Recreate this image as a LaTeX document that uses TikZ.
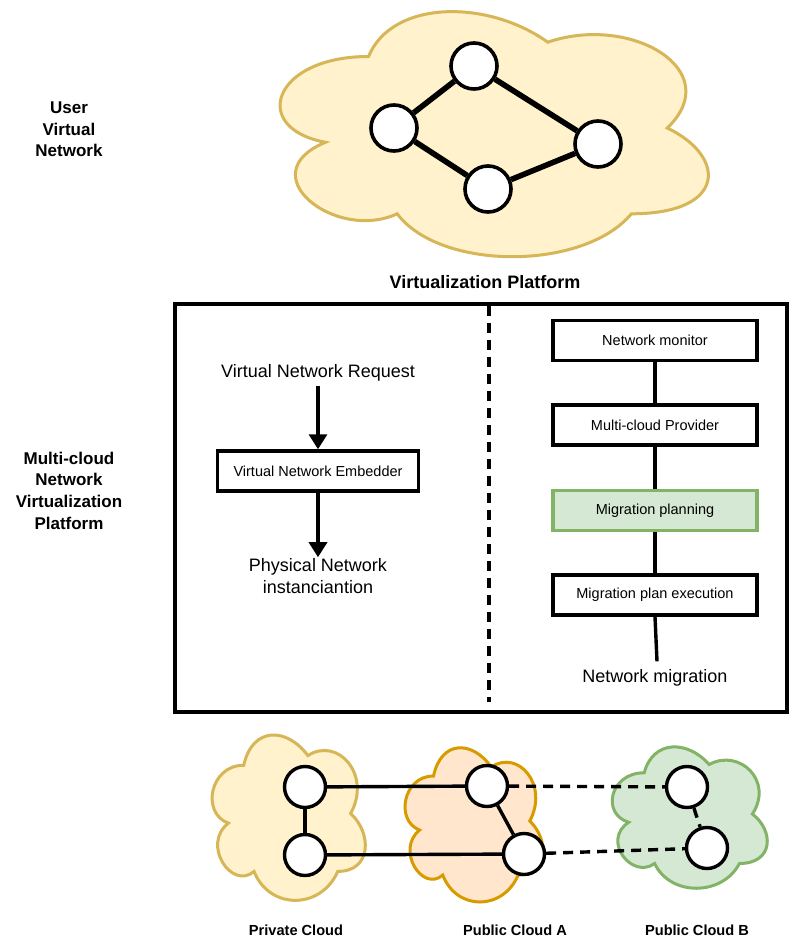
\documentclass[tikz,border=0pt]{standalone}
\usepackage{fontspec}
\setmainfont{Liberation Sans}
\usetikzlibrary{arrows.meta}

\definecolor{ylwfill}{HTML}{FFF2CC}
\definecolor{ylwline}{HTML}{D6B656}
\definecolor{orgfill}{HTML}{FFE6CC}
\definecolor{orgline}{HTML}{D79B00}
\definecolor{grnfill}{HTML}{D5E8D4}
\definecolor{grnline}{HTML}{82B366}

% cloud outline inside the box (x0,y0) of size w x h
\newcommand\cloudshape[5]{%
  \path[#1]
    ({#2+0.25*#4},{#3+0.25*#5})
    .. controls ({#2+0.05*#4},{#3+0.25*#5}) and ({#2},{#3+0.5*#5}) .. ({#2+0.16*#4},{#3+0.55*#5})
    .. controls ({#2},{#3+0.66*#5}) and ({#2+0.18*#4},{#3+0.9*#5}) .. ({#2+0.31*#4},{#3+0.8*#5})
    .. controls ({#2+0.4*#4},{#3+#5}) and ({#2+0.7*#4},{#3+#5}) .. ({#2+0.8*#4},{#3+0.8*#5})
    .. controls ({#2+#4},{#3+0.8*#5}) and ({#2+#4},{#3+0.6*#5}) .. ({#2+0.875*#4},{#3+0.5*#5})
    .. controls ({#2+#4},{#3+0.3*#5}) and ({#2+0.8*#4},{#3+0.1*#5}) .. ({#2+0.625*#4},{#3+0.2*#5})
    .. controls ({#2+0.5*#4},{#3+0.05*#5}) and ({#2+0.3*#4},{#3+0.05*#5}) .. ({#2+0.25*#4},{#3+0.25*#5})
    -- cycle;}

\tikzset{
  bignode/.style={circle, draw=black, fill=white, line width=3.6pt, minimum size=46pt, inner sep=0pt},
  smallnode/.style={circle, draw=black, fill=white, line width=3.4pt, minimum size=41pt, inner sep=0pt},
  bigedge/.style={line width=5.6pt},
  smalledge/.style={line width=3.4pt},
  dashedge/.style={line width=3.4pt, dash pattern=on 10pt off 7pt},
  cloudline/.style={line width=3pt},
  sidelabel/.style={font=\bfseries\fontsize{17}{21.7}\selectfont, align=center, inner sep=0pt},
  plaintext/.style={font=\fontsize{18}{22}\selectfont, align=center, inner sep=0pt},
  procbox/.style={draw=black, fill=white, line width=3.5pt, minimum width=204pt, minimum height=40pt,
    inner sep=0pt, font=\fontsize{14.5}{17}\selectfont},
  flowline/.style={line width=3.4pt},
  flowarrow/.style={line width=3.4pt, -{Triangle[length=15pt,width=18pt]}},
  cloudlabel/.style={font=\bfseries\fontsize{14.6}{17}\selectfont, inner sep=0pt},
}

\begin{document}
\begin{tikzpicture}[x=1pt, y=-1pt]
\useasboundingbox[fill=white] (0,0) rectangle (790,941);

% ---- user virtual network ----
\cloudshape{fill=ylwfill, draw=ylwline, cloudline}{249}{-15}{478}{286}
\node[bignode] (u1) at (474,66) {};
\node[bignode] (u2) at (394,128) {};
\node[bignode] (u3) at (598,144) {};
\node[bignode] (u4) at (488,189) {};
\draw[bigedge] (u1) -- (u2);
\draw[bigedge] (u1) -- (u3);
\draw[bigedge] (u2) -- (u4);
\draw[bigedge] (u4) -- (u3);

\node[sidelabel] (lblUser) at (69,129.5) {User\\Virtual\\Network};
\node[sidelabel] (lblMulti) at (69,490.5) {Multi-cloud\\Network\\Virtualization\\Platform};

% ---- virtualization platform ----
\node[font=\bfseries\fontsize{18}{22}\selectfont, inner sep=0pt] (title) at (485,282) {Virtualization Platform};
\draw[line width=3.6pt] (175,304) rectangle (787,712);
\coordinate (divTop) at (489,306);
\coordinate (divBot) at (489,702);
\draw[line width=3.4pt, dash pattern=on 10pt off 7pt] (divTop) -- (divBot);

% embedding flow
\node[plaintext] (vnr) at (318,373) {Virtual Network Request};
\node[procbox, minimum width=201pt] (emb) at (318,471) {Virtual Network Embedder};
\node[plaintext] (pni) at (318,576) {Physical Network\\instanciantion};
\draw[flowarrow] ([yshift=-4pt]vnr.south) -- (emb.north);
\draw[flowarrow] (emb.south) -- ([yshift=1pt]pni.north);

% migration flow
\node[procbox] (mon) at (655,340.5) {Network monitor};
\node[procbox] (prov) at (655,425) {Multi-cloud Provider};
\node[procbox, fill=grnfill, draw=grnline] (plan) at (655,510.5) {Migration planning};
\node[procbox] (exec) at (655,595) {Migration plan execution};
\node[plaintext] (mig) at (655,678) {Network migration};
\draw[flowline] (exec.south) ++(0,0) -- ([xshift=2pt,yshift=8pt]mig.north);
\draw[flowline] (mon) -- (prov);
\draw[flowline] (prov) -- (plan);
\draw[flowline] (plan) -- (exec);

% ---- physical clouds ----
\cloudshape{fill=ylwfill, draw=ylwline, cloudline}{201}{717}{171}{193}
\cloudshape{fill=orgfill, draw=orgline, cloudline}{395}{731}{154}{180}
\cloudshape{fill=grnfill, draw=grnline, cloudline}{601}{731.5}{173}{165}

\node[smallnode] (p1) at (305,787) {};
\node[smallnode] (p2) at (305,855) {};
\node[smallnode] (a1) at (487,786) {};
\node[smallnode] (a2) at (524,854) {};
\node[smallnode] (b1) at (687,787) {};
\node[smallnode] (b2) at (707,848) {};

\draw[smalledge] (p1) -- (p2);
\draw[smalledge] (p1) -- (a1);
\draw[smalledge] (p2) -- (a2);
\draw[smalledge] (a1) -- (a2);
\draw[dashedge] (a1) -- (b1);
\draw[dashedge] (a2) -- (b2);
\draw[dashedge] (b1) -- (b2);

\node[cloudlabel] (lblPriv) at (296,930) {Private Cloud};
\node[cloudlabel] (lblPubA) at (515,930) {Public Cloud A};
\node[cloudlabel] (lblPubB) at (697,930) {Public Cloud B};
\end{tikzpicture}
\end{document}
